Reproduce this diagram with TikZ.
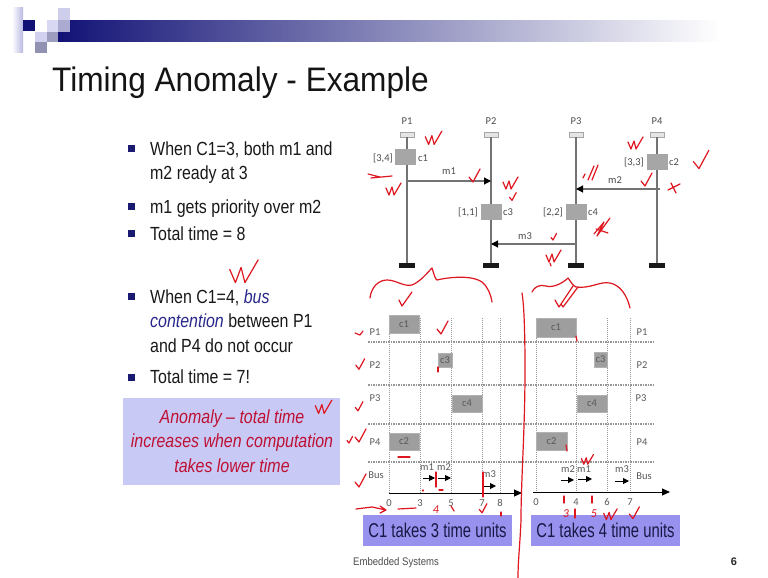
\documentclass[tikz,border=0pt]{standalone}
\usepackage{fontspec}
\setmainfont{Liberation Sans}
\newfontfamily\titlefont[FakeStretch=0.93]{Liberation Sans}
\newfontfamily\bodyfont[FakeStretch=0.84]{Liberation Sans}
\newfontfamily\boxfont[FakeStretch=0.74]{Liberation Sans}
\newfontfamily\footfont[FakeStretch=0.87]{Liberation Sans}
\newfontfamily\figfont{Carlito}
\usetikzlibrary{arrows.meta}

\definecolor{navy}{RGB}{26,26,112}
\definecolor{barnavy}{RGB}{18,18,118}
\definecolor{barmid}{RGB}{140,140,200}
\definecolor{lav}{RGB}{201,201,246}
\definecolor{lavbox}{RGB}{152,146,238}
\definecolor{crimson}{RGB}{190,16,50}
\definecolor{taskgray}{RGB}{166,166,166}
\definecolor{inkred}{RGB}{222,22,32}
\definecolor{textdark}{RGB}{25,25,25}
\definecolor{bustext}{RGB}{40,40,140}
\definecolor{gridgray}{RGB}{150,150,150}
\definecolor{boxtext}{RGB}{25,25,70}

\tikzset{
  bodytxt/.style={font=\bodyfont\fontsize{19}{22}\selectfont, text=textdark, inner sep=0pt, anchor=base west},
  anomtxt/.style={font=\bodyfont\itshape\fontsize{19}{22}\selectfont, text=crimson, inner sep=0pt, anchor=base},
  bulletsq/.style={fill=navy},
  figlbl/.style={font=\figfont\fontsize{10.5}{12}\selectfont, text=black!70, inner sep=0pt},
  taskbox/.style={draw=black!35, fill=taskgray, inner sep=0pt, minimum width=20pt, minimum height=15pt},
  procline/.style={draw=black!55, line width=1.3pt},
  msgarrow/.style={draw=black!55, line width=1.1pt, -{Triangle[color=black,length=7pt,width=7pt]}},
  capcell/.style={draw=black!35, fill=black!10, line width=0.5pt},
  basebar/.style={fill=black!90},
  gridv/.style={draw=gridgray, line width=0.9pt, dash pattern=on 1pt off 1pt},
  gridh/.style={draw=gridgray, line width=1.2pt, dash pattern=on 1.5pt off 1pt},
  ganttbox/.style={fill=black!38, draw=black!30, inner sep=0pt, font=\figfont\fontsize{10.5}{12}\selectfont, text=black!65},
  ganttlbl/.style={font=\figfont\fontsize{10.5}{12}\selectfont, text=black!65, inner sep=0pt},
  busarrow/.style={draw=black, line width=1pt, -{Triangle[length=6pt,width=6pt]}},
  axisarrow/.style={draw=black, line width=1pt, -{Triangle[length=8pt,width=7pt]}},
  unitbox/.style={fill=lavbox, inner sep=0pt, minimum width=149pt, minimum height=31pt, font=\boxfont\fontsize{20}{22}\selectfont, text=boxtext},
  redpen/.style={draw=inkred, line width=1.2pt, line cap=round, line join=round},
  redtxt/.style={text=inkred, font=\figfont\itshape\fontsize{12}{12}\selectfont, inner sep=0pt},
  pics/onetick/.style={code={\draw[redpen] (-4,-1) -- (0,4) -- (7,-9);}},
  pics/twotick/.style={code={\draw[redpen] (-7,-3) -- (-4,4) -- (-1,-4) -- (1,4) -- (8,-8);}},
}

\begin{document}
\begin{tikzpicture}[x=1pt, y=-1pt]
\useasboundingbox (0,0) rectangle (768,578);
\fill[white] (0,0) rectangle (768,578);

% ---------- header logo and bar ----------
\shade[left color=barnavy, middle color=barmid, right color=white] (58,21) rectangle (720,42);
\shade[left color=white, right color=black!8!lav] (12,8) rectangle (23,53);
\fill[barnavy] (23,20) rectangle (35,31);
\fill[black!5!lav!60] (47,20) rectangle (58,32);
\fill[black!8!lav!70] (58,8) rectangle (70,20);
\fill[black!15!lav] (58,20) rectangle (70,32);
\fill[black!5!lav!70] (35,32) rectangle (47,42);
\fill[black!22!lav] (47,32) rectangle (58,42);
\fill[black!28!lav] (35,42) rectangle (47,53);

% ---------- title ----------
\node[font=\titlefont\fontsize{34}{40}\selectfont, text=black!92, inner sep=0pt, anchor=base west] (title) at (52,92) {Timing Anomaly - Example};

% ---------- bullet list ----------
\fill[bulletsq] (128,145) rectangle (135,152);
\node[bodytxt] (b1a) at (150,155) {When C1=3, both m1 and};
\node[bodytxt] (b1b) at (150,179) {m2 ready at 3};
\fill[bulletsq] (128,203) rectangle (135,210);
\node[bodytxt] (b2) at (150,213) {m1 gets priority over m2};
\fill[bulletsq] (128,230) rectangle (135,237);
\node[bodytxt] (b3) at (150,240) {Total time = 8};

\fill[bulletsq] (128,293) rectangle (135,300);
\node[bodytxt] (b4a) at (150,303) {When C1=4, {\itshape\color{bustext}bus}};
\node[bodytxt] (b4b) at (150,327) {{\itshape\color{bustext}contention} between P1};
\node[bodytxt] (b4c) at (150,352) {and P4 do not occur};
\fill[bulletsq] (128,374) rectangle (135,381);
\node[bodytxt] (b5) at (150,383) {Total time = 7!};

\fill[lav] (123,398) rectangle (340,485);
\node[anomtxt] (an1) at (232,423) {Anomaly – total time};
\node[anomtxt] (an2) at (232,447) {increases when computation};
\node[anomtxt] (an3) at (232,472) {takes lower time};

% ---------- task graph ----------
\foreach \p/\x in {P1/407, P2/491, P3/576, P4/657} {
  \node[figlbl] (lbl\p) at (\x,121) {\p};
  \draw[capcell] (\x-7,132) rectangle (\x+7,137);
  \draw[procline] (\x,137) -- (\x,263);
  \fill[basebar] (\x-8,263) rectangle (\x+8,268);
}
\node[taskbox] (tc1) at (405,157) {};
\node[figlbl, anchor=east] (wc1) at (393,158) {[3,4]};
\node[figlbl, anchor=west] (nc1) at (418,158) {c1};
\node[taskbox] (tc3) at (491,212) {};
\node[figlbl, anchor=east] (wc3) at (478,212) {[1,1]};
\node[figlbl, anchor=west] (nc3) at (503,212) {c3};
\node[taskbox] (tc4) at (576,212) {};
\node[figlbl, anchor=east] (wc4) at (563,212) {[2,2]};
\node[figlbl, anchor=west] (nc4) at (588,212) {c4};
\node[taskbox] (tc2) at (657,162) {};
\node[figlbl, anchor=east] (wc2) at (644,162) {[3,3]};
\node[figlbl, anchor=west] (nc2) at (669,162) {c2};

\coordinate (m1s) at (407,181);
\coordinate (m1e) at (491,181);
\coordinate (m2s) at (660,189);
\coordinate (m2e) at (576,189);
\coordinate (m3s) at (576,244);
\coordinate (m3e) at (491,244);
\draw[msgarrow] (m1s) -- (m1e);
\draw[msgarrow] (m2s) -- (m2e);
\draw[msgarrow] (m3s) -- (m3e);
\node[figlbl] (lm1) at (449,171) {m1};
\node[figlbl] (lm2) at (615,180) {m2};
\node[figlbl] (lm3) at (525,236) {m3};

% ---------- schedule with C1 = 3 ----------
\foreach \y in {342,385,424,462} \draw[gridh] (368,\y) -- (520,\y);
\foreach \x in {389,420,451,482,500} \draw[gridv] (\x,318) -- (\x,493);
\node[ganttbox, minimum width=30pt, minimum height=18pt] (lc1) at (404,324) {c1};
\node[ganttbox, minimum width=14pt, minimum height=14pt] (lc3) at (445,360) {c3};
\node[ganttbox, minimum width=30pt, minimum height=17pt] (lc4) at (467,403.5) {c4};
\node[ganttbox, minimum width=30pt, minimum height=17pt] (lc2) at (404,441.5) {c2};
\node[ganttlbl] (lrP1) at (375,332) {P1};
\node[ganttlbl] (lrP2) at (375,365) {P2};
\node[ganttlbl] (lrP3) at (375,398) {P3};
\node[ganttlbl] (lrP4) at (375,442) {P4};
\node[ganttlbl] (lrBus) at (376,475) {Bus};
\coordinate (lax0) at (389,493);
\coordinate (lax1) at (522,493);
\draw[axisarrow] (lax0) -- (lax1);
\foreach \x/\t in {389/0,420/3,451/5,482/7,500/8} \node[ganttlbl] (lt\t) at (\x,503) {\t};
\coordinate (lb1s) at (423,478); \coordinate (lb1e) at (435,478);
\coordinate (lb2s) at (438,478); \coordinate (lb2e) at (451,478);
\coordinate (lb3s) at (484,486); \coordinate (lb3e) at (496,486);
\draw[busarrow] (lb1s) -- (lb1e);
\draw[busarrow] (lb2s) -- (lb2e);
\draw[busarrow] (lb3s) -- (lb3e);
\node[ganttlbl] (lbm1) at (427,467) {m1};
\node[ganttlbl] (lbm2) at (444,467) {m2};
\node[ganttlbl] (lbm3) at (489,474) {m3};
\node[unitbox] (lunits) at (437.5,530.5) {C1 takes 3 time units};

% ---------- schedule with C1 = 4 ----------
\foreach \y in {342,385,424,462} \draw[gridh] (520,\y) -- (653,\y);
\foreach \x in {536,576,607,630} \draw[gridv] (\x,318) -- (\x,492);
\node[ganttbox, minimum width=40pt, minimum height=19pt] (rc1) at (556,327.5) {c1};
\node[ganttbox, minimum width=13pt, minimum height=15pt] (rc3) at (600.5,359.5) {c3};
\node[ganttbox, minimum width=30pt, minimum height=17pt] (rc4) at (592,403.5) {c4};
\node[ganttbox, minimum width=31pt, minimum height=18pt] (rc2) at (551.5,441) {c2};
\node[ganttlbl] (rrP1) at (642,332) {P1};
\node[ganttlbl] (rrP2) at (642,365) {P2};
\node[ganttlbl] (rrP3) at (641,398) {P3};
\node[ganttlbl] (rrP4) at (642,442) {P4};
\node[ganttlbl] (rrBus) at (644,476) {Bus};
\coordinate (rax0) at (533,492);
\coordinate (rax1) at (670,492);
\draw[axisarrow] (rax0) -- (rax1);
\foreach \x/\t in {536/0,576/4,607/6,630/7} \node[ganttlbl] (rt\t) at (\x,502) {\t};
\coordinate (rb2s) at (561,480); \coordinate (rb2e) at (574,480);
\coordinate (rb1s) at (578,479); \coordinate (rb1e) at (592,479);
\coordinate (rb3s) at (615,481); \coordinate (rb3e) at (629,481);
\draw[busarrow] (rb2s) -- (rb2e);
\draw[busarrow] (rb1s) -- (rb1e);
\draw[busarrow] (rb3s) -- (rb3e);
\node[ganttlbl] (rbm2) at (568,469) {m2};
\node[ganttlbl] (rbm1) at (584,469) {m1};
\node[ganttlbl] (rbm3) at (622,469) {m3};
\node[unitbox] (runits) at (605.5,530.5) {C1 takes 4 time units};

% ---------- footer ----------
\node[font=\footfont\fontsize{11}{12}\selectfont, text=black!70, inner sep=0pt, anchor=base west] (foot) at (353,565) {Embedded Systems};
\node[font=\bfseries\fontsize{11}{12}\selectfont, text=black!85, inner sep=0pt, anchor=base] (pgno) at (734,565) {6};

% ---------- red pen marks ----------
\draw[redpen] (522,293) .. controls (524,305) and (525,330) .. (525,370) .. controls (525,430) and (521,480) .. (521,520) .. controls (520,545) and (518,560) .. (518,578);
% curly marks above the two schedules
\draw[redpen] (370,298) .. controls (371,288) and (378,280) .. (387,280) .. controls (396,280) and (404,287) .. (412,285) .. controls (420,282) and (428,272) .. (432,268) .. controls (434,274) and (435,279) .. (437,280) .. controls (445,278) and (470,274) .. (482,282) .. controls (488,287) and (491,295) .. (492,302);
\draw[redpen] (399,300) -- (402,306) -- (412,292);
\draw[redpen] (532,292) .. controls (534,287) and (540,284) .. (546,286) .. controls (552,288) and (562,284) .. (568,278) .. controls (571,282) and (573,286) .. (576,287) .. controls (590,289) and (600,281) .. (610,283) .. controls (620,285) and (627,295) .. (630,308);
\draw[redpen] (555,300) -- (559,307) -- (573,286) (561,304) -- (563,307) -- (578,287);
\pic[scale=1.1] at (433,140) {twotick};
\draw[redpen] (368,174) -- (380,177) -- (371,178) -- (392,176);
\pic at (393,191) {twotick};
\pic at (473,178) {onetick};
\pic at (510,185) {twotick};
\pic[scale=0.6] at (512,198) {onetick};
\pic[scale=0.5] at (553,238) {onetick};
\pic at (553,258) {twotick};
\draw[redpen] (583,178) -- (585,174) (588,180) -- (594,166) (592,180) -- (598,165);
\draw[redpen] (594,234) -- (604,222) -- (597,236) -- (610,218) (596,229) -- (608,233);
\pic at (635,145) {twotick};
\pic[scale=1.4] at (699,163) {onetick};
\pic at (645,182) {onetick};
\draw[redpen] (668,190) -- (680,184) (671,183) -- (676,193);
\pic[scale=1.9] at (243,275) {twotick};
\pic[scale=1.1] at (323,409) {twotick};
\pic[scale=0.5] at (349,441) {onetick};
\pic at (441,330) {onetick};
\draw[redpen] (438,367) -- (438,372);
\draw[redpen] (550,263) -- (551,266);
\draw[redpen] (355,333) -- (360,335) -- (363,331);
\pic[scale=0.8] at (359,366) {onetick};
\pic[scale=0.7] at (358,408) {onetick};
\pic at (359,438) {onetick};
\pic at (359,483) {onetick};
\draw[redpen] (398,457) -- (410,457);
\draw[redpen] (436,472) -- (436,487);
\draw[redpen] (439,490) -- (443,490);
\draw[redpen] (483,472) -- (483,497);
\draw[redpen] (423,490) -- (423,491);
\draw[redpen] (356,509) -- (372,507) -- (386,510) (380,506) -- (386,510) -- (380,513);
\draw[redpen] (398,509) -- (416,508);
\node[redtxt] (hw4) at (436,510) {4};
\draw[redpen] (451,506) -- (454,511);
\pic[scale=0.7] at (482,510) {onetick};
\draw[redpen] (501,512) -- (501,516);
\draw[redpen] (576,336) -- (577,341);
\draw[redpen] (566,445) -- (567,451);
\pic[scale=0.8] at (587,461) {twotick};
\draw[redpen] (564,496) -- (564,503);
\draw[redpen] (592,496) -- (592,503);
\node[redtxt] (hw3) at (566,514) {3};
\draw[redpen] (575,509) -- (575,518);
\node[redtxt] (hw5) at (594,514) {5};
\pic[scale=0.9] at (610,516) {twotick};
\pic[scale=0.9] at (633,515) {onetick};
\end{tikzpicture}
\end{document}
